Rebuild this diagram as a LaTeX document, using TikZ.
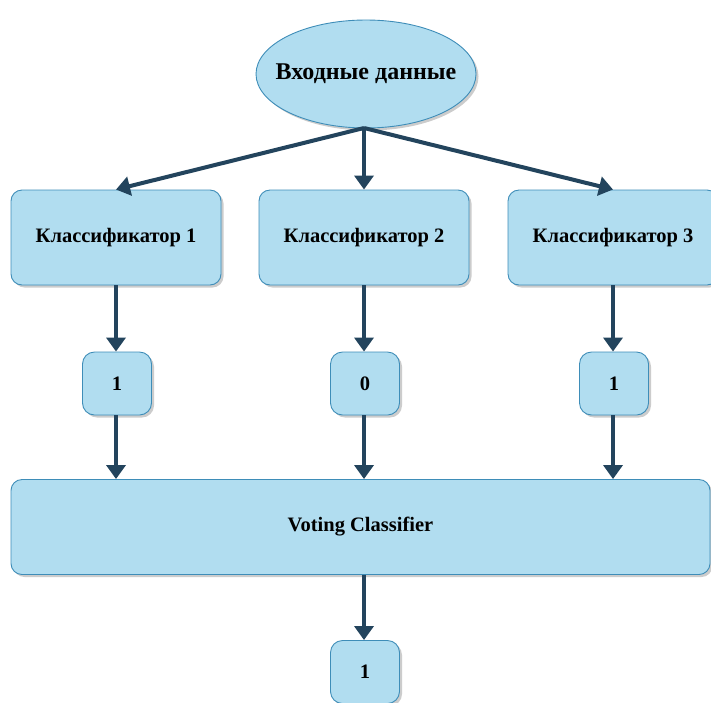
\documentclass[tikz,border=0pt]{standalone}
\usepackage{fontspec}
\setmainfont{Liberation Serif}
\usetikzlibrary{arrows.meta,shapes.geometric,shadows}
\definecolor{boxfill}{HTML}{B1DDF0}
\definecolor{boxline}{HTML}{3E8DB8}
\definecolor{arr}{HTML}{23445D}
\tikzset{
  base/.style={draw=boxline, fill=boxfill, line width=0.9pt, font=\bfseries\fontsize{20.5}{24}\selectfont, text=black,
    drop shadow={shadow xshift=2.5pt, shadow yshift=-2.5pt, fill=black!25, opacity=0.8}},
  clsbox/.style={base, rounded corners=11pt, minimum width=210pt, minimum height=95pt, inner sep=0pt},
  valbox/.style={base, rounded corners=12pt, minimum width=69pt, minimum height=63pt, inner sep=0pt},
  votebox/.style={base, rounded corners=11pt, minimum width=699pt, minimum height=95pt, inner sep=0pt},
  inbox/.style={base, ellipse, minimum width=220pt, minimum height=108pt, inner sep=0pt, font=\bfseries\fontsize{24}{28}\selectfont},
  conn/.style={draw=arr, line width=4pt, -{Triangle[length=14pt,width=19pt]}}
}
\begin{document}
\begin{tikzpicture}[x=1pt,y=-1pt]
\useasboundingbox (0,0) rectangle (711,702);
\node[inbox] (in) at (366,74) {\makebox[0pt]{Входные данные}};
\node[clsbox] (c1) at (116,237.5) {Классификатор 1};
\node[clsbox] (c2) at (364,237.5) {Классификатор 2};
\node[clsbox] (c3) at (613,237.5) {Классификатор 3};
\node[valbox] (v1) at (117,383.5) {1};
\node[valbox] (v2) at (365,383.5) {0};
\node[valbox] (v3) at (614,383.5) {1};
\node[votebox] (vote) at (360.5,527) {Voting Classifier};
\node[valbox] (out) at (365,672) {1};
\coordinate (src) at (364,128);
\draw[conn] (src) -- (c1.north);
\draw[conn] (src) -- (c2.north);
\draw[conn] (src) -- (c3.north);
\draw[conn] (c1.south) -- (c1.south |- v1.north);
\draw[conn] (c2.south) -- (c2.south |- v2.north);
\draw[conn] (c3.south) -- (c3.south |- v3.north);
\draw[conn] (v1.south -| c1.south) -- (c1.south |- vote.north);
\draw[conn] (v2.south -| c2.south) -- (c2.south |- vote.north);
\draw[conn] (v3.south -| c3.south) -- (c3.south |- vote.north);
\draw[conn] (vote.south -| c2.south) -- (c2.south |- out.north);
\end{tikzpicture}
\end{document}
